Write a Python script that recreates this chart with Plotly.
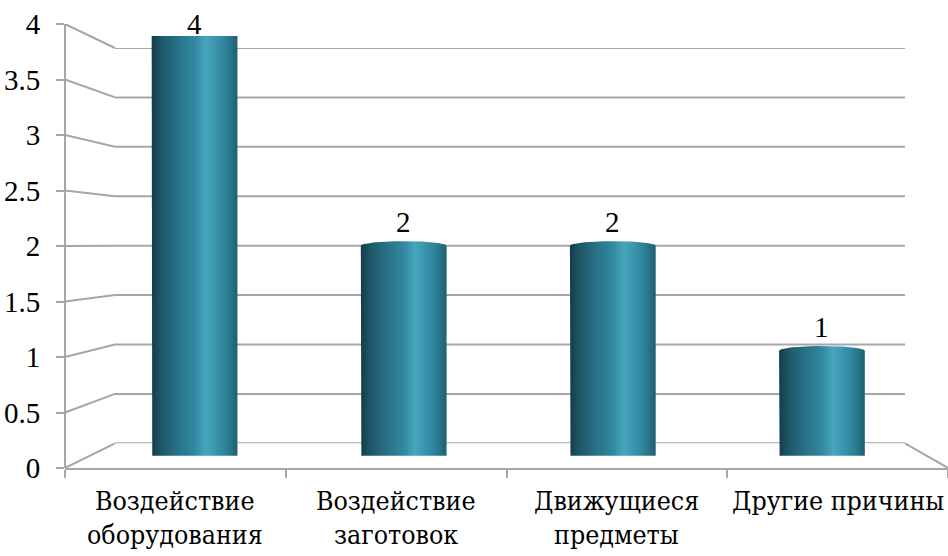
import numpy as np
import plotly.graph_objects as go

# --- data -----------------------------------------------------------------
categories = ["Воздействие<br>оборудования", "Воздействие<br>заготовок",
              "Движущиеся<br>предметы", "Другие причины"]
values = [4, 2, 2, 1]
value_labels = ["4", "2", "2", "1"]
y_ticks = [0, 0.5, 1, 1.5, 2, 2.5, 3, 3.5, 4]
y_max = 4

# --- geometry of the pseudo-3D box (pixel rows/cols of the 948x556 canvas) --
W, H = 948, 556
FRONT_X = (65, 948)        # front floor edge / category axis
FRONT_Y = (468, 24)        # rows of value 0 and value 4 on the front plane
BACK_X = (115, 905)        # back wall
BACK_Y = (443.3, 48)
MID_X = ((FRONT_X[0] + BACK_X[0]) / 2, (FRONT_X[1] + BACK_X[1]) / 2)
MID_Y = ((FRONT_Y[0] + BACK_Y[0]) / 2, (FRONT_Y[1] + BACK_Y[1]) / 2)
LABEL_ROWS = (500, 534)    # centre rows of the two category label lines

GRID = "#a6a6a6"
NUM_FONT = "Times New Roman"
CAT_FONT = '"DejaVu Serif Condensed", "DejaVu Serif", serif'
FS = 29
CAT_FS = 26.5


def fx(p):
    return p / W


def fy(p):
    return (H - p) / H


front_dom = [fy(FRONT_Y[0]), fy(FRONT_Y[1])]
back_dom = [fy(BACK_Y[0]), fy(BACK_Y[1])]
mid_dom = [fy(MID_Y[0]), fy(MID_Y[1])]


def back_in_front_units(v):
    """Value v on the back wall expressed on the front value axis."""
    p = back_dom[0] + v / y_max * (back_dom[1] - back_dom[0])
    return (p - front_dom[0]) / (front_dom[1] - front_dom[0]) * y_max


fig = go.Figure()

# invisible anchors so every subplot exists
fig.add_trace(go.Scatter(x=categories, y=[0] * len(categories), mode="markers",
                         marker=dict(opacity=0), hoverinfo="skip", showlegend=False))
fig.add_trace(go.Scatter(x=[0], y=[0], xaxis="x2", yaxis="y2", mode="markers",
                         marker=dict(opacity=0), hoverinfo="skip", showlegend=False))

# --- cylinders ------------------------------------------------------------
half_w = 0.205     # half bar width in category units
ell_b = 0.045      # vertical semi-axis of the end ellipses (value units)
t_bottom = np.linspace(np.pi, 2 * np.pi, 60)
t_top = np.linspace(0, np.pi, 60)
bar_scale = [[0.0, "#153b48"], [0.1, "#1d5566"], [0.3, "#287187"],
             [0.5, "#3188a0"], [0.63, "#47a5be"], [0.72, "#3e99b2"],
             [0.88, "#2c7f96"], [1.0, "#1f5e70"]]

for i, v in enumerate(values):
    xs = np.concatenate([[i - half_w, i - half_w],
                         i + half_w * np.cos(t_bottom),
                         [i + half_w],
                         i + half_w * np.cos(t_top)])
    ys = np.concatenate([[v, 0],
                         ell_b * np.sin(t_bottom),
                         [v],
                         v + ell_b * np.sin(t_top)])
    fig.add_trace(go.Scatter(
        x=xs, y=ys, xaxis="x3", yaxis="y3", mode="lines", fill="toself",
        line=dict(width=0, color="rgba(0,0,0,0)"),
        fillgradient=dict(type="horizontal", colorscale=bar_scale),
        hoverinfo="skip", showlegend=False))

# value labels above the cylinders (kept inside the chart top)
px_per_unit = (MID_Y[0] - MID_Y[1]) / y_max
for i, (v, lab) in enumerate(zip(values, value_labels)):
    top_px = MID_Y[0] - v * px_per_unit
    centre_px = max(top_px - 24, 24)
    fig.add_annotation(x=i, y=v, xref="x3", yref="y3", text=lab, showarrow=False,
                       yanchor="middle", yshift=top_px - centre_px,
                       font=dict(family=NUM_FONT, size=FS, color="black"))

# category labels, one annotation per text line
for cat in categories:
    for row, line in zip(LABEL_ROWS, cat.split("<br>")):
        fig.add_annotation(x=cat, y=fy(row), xref="x", yref="paper", text=line,
                           showarrow=False, yanchor="middle",
                           font=dict(family=CAT_FONT, size=CAT_FS, color="black"))

# --- back wall gridlines and perspective connectors -------------------------
shapes = []
for v in y_ticks:
    shapes.append(dict(type="line", xref="paper", yref="y2",
                       x0=fx(BACK_X[0]), x1=fx(BACK_X[1]), y0=v, y1=v,
                       line=dict(color=GRID, width=2), layer="below"))
    shapes.append(dict(type="line", xref="paper", yref="y",
                       x0=fx(FRONT_X[0]), x1=fx(BACK_X[0]),
                       y0=v, y1=back_in_front_units(v),
                       line=dict(color=GRID, width=2), layer="below"))
# right edge of the floor
shapes.append(dict(type="line", xref="paper", yref="y",
                   x0=fx(BACK_X[1]), x1=fx(FRONT_X[1]),
                   y0=back_in_front_units(0), y1=0,
                   line=dict(color=GRID, width=2), layer="below"))

fig.update_layout(
    template="none",
    width=W, height=H, margin=dict(l=0, r=0, t=0, b=0, pad=0),
    paper_bgcolor="white", plot_bgcolor="rgba(0,0,0,0)",
    showlegend=False, shapes=shapes,
    font=dict(family=NUM_FONT, size=FS, color="black"),
    xaxis=dict(domain=[fx(FRONT_X[0]), fx(FRONT_X[1])], anchor="y",
               type="category", categoryorder="array", categoryarray=categories,
               range=[-0.5, len(categories) - 0.5], tickson="boundaries",
               ticks="outside", ticklen=8, tickwidth=2, tickcolor=GRID,
               showline=True, linecolor=GRID, linewidth=2, automargin=False,
               showgrid=False, zeroline=False, fixedrange=True,
               showticklabels=False),
    yaxis=dict(domain=front_dom, anchor="free", position=fx(FRONT_X[0]),
               range=[0, y_max], tickvals=y_ticks, ticks="outside", ticklen=8,
               tickwidth=2, tickcolor=GRID, showline=True, linecolor=GRID,
               linewidth=2, showgrid=False, zeroline=False, fixedrange=True,
               ticklabelstandoff=10, automargin=False,
               tickfont=dict(family=NUM_FONT, size=FS, color="black")),
    xaxis2=dict(domain=[fx(BACK_X[0]), fx(BACK_X[1])], anchor="y2",
                range=[0, 1], visible=False, automargin=False),
    yaxis2=dict(domain=back_dom, anchor="x2", range=[0, y_max], visible=False,
                automargin=False),
    xaxis3=dict(domain=[fx(MID_X[0]), fx(MID_X[1])], anchor="y3",
                range=[-0.5, len(categories) - 0.5], visible=False,
                automargin=False),
    yaxis3=dict(domain=mid_dom, anchor="x3", range=[0, y_max], visible=False,
                automargin=False),
)

fig.write_html("out.html")
